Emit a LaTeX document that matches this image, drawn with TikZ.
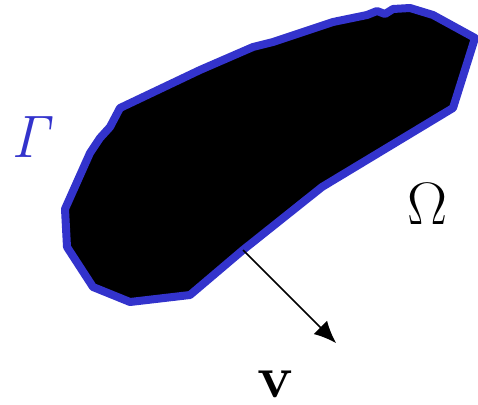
\documentclass[tikz,border=0pt]{standalone}
\usepackage{amsmath}
\usetikzlibrary{arrows.meta}
\definecolor{gammablue}{RGB}{51,51,204}
\newcommand\bigsym[1]{\scalebox{2.41}{\Huge$#1$}}
\tikzset{
  regionshape/.style={fill=black, draw=gammablue, line width=8pt, line join=round},
  normalarrow/.style={line width=1.5pt, -{Latex[length=22pt,width=19pt]}},
  symlabel/.style={inner sep=0pt, anchor=center},
}
\begin{document}
\begin{tikzpicture}[x=1pt, y=-1pt]
\useasboundingbox (0,0) rectangle (478,404);
% the region, with its boundary drawn thick
\draw[regionshape]
  (120,108) -- (110,127) -- (100,138) -- (90,153) -- (65,209) -- (67,247)
  -- (93,287) -- (130,302) -- (190,295) -- (243,250) -- (322,187)
  -- (453,108) -- (475,38) -- (433,15) -- (410,8) -- (393,9) -- (385,14)
  -- (377,11) -- (367,15) -- (333,22) -- (300,33) -- (273,42) -- (253,47)
  -- (200,70) -- cycle;
% normal vector
\coordinate (foot) at (243,250);
\coordinate (tip) at (336,343);
\draw[normalarrow] (foot) -- (tip);
% labels
\node[symlabel, text=gammablue] (gamma) at (34,137) {\bigsym{\mathit{\Gamma}}};
\node[symlabel] (omega) at (428,204) {\bigsym{\Omega}};
\node[symlabel] (vlabel) at (276,384) {\bigsym{\mathbf{v}}};
\end{tikzpicture}
\end{document}
